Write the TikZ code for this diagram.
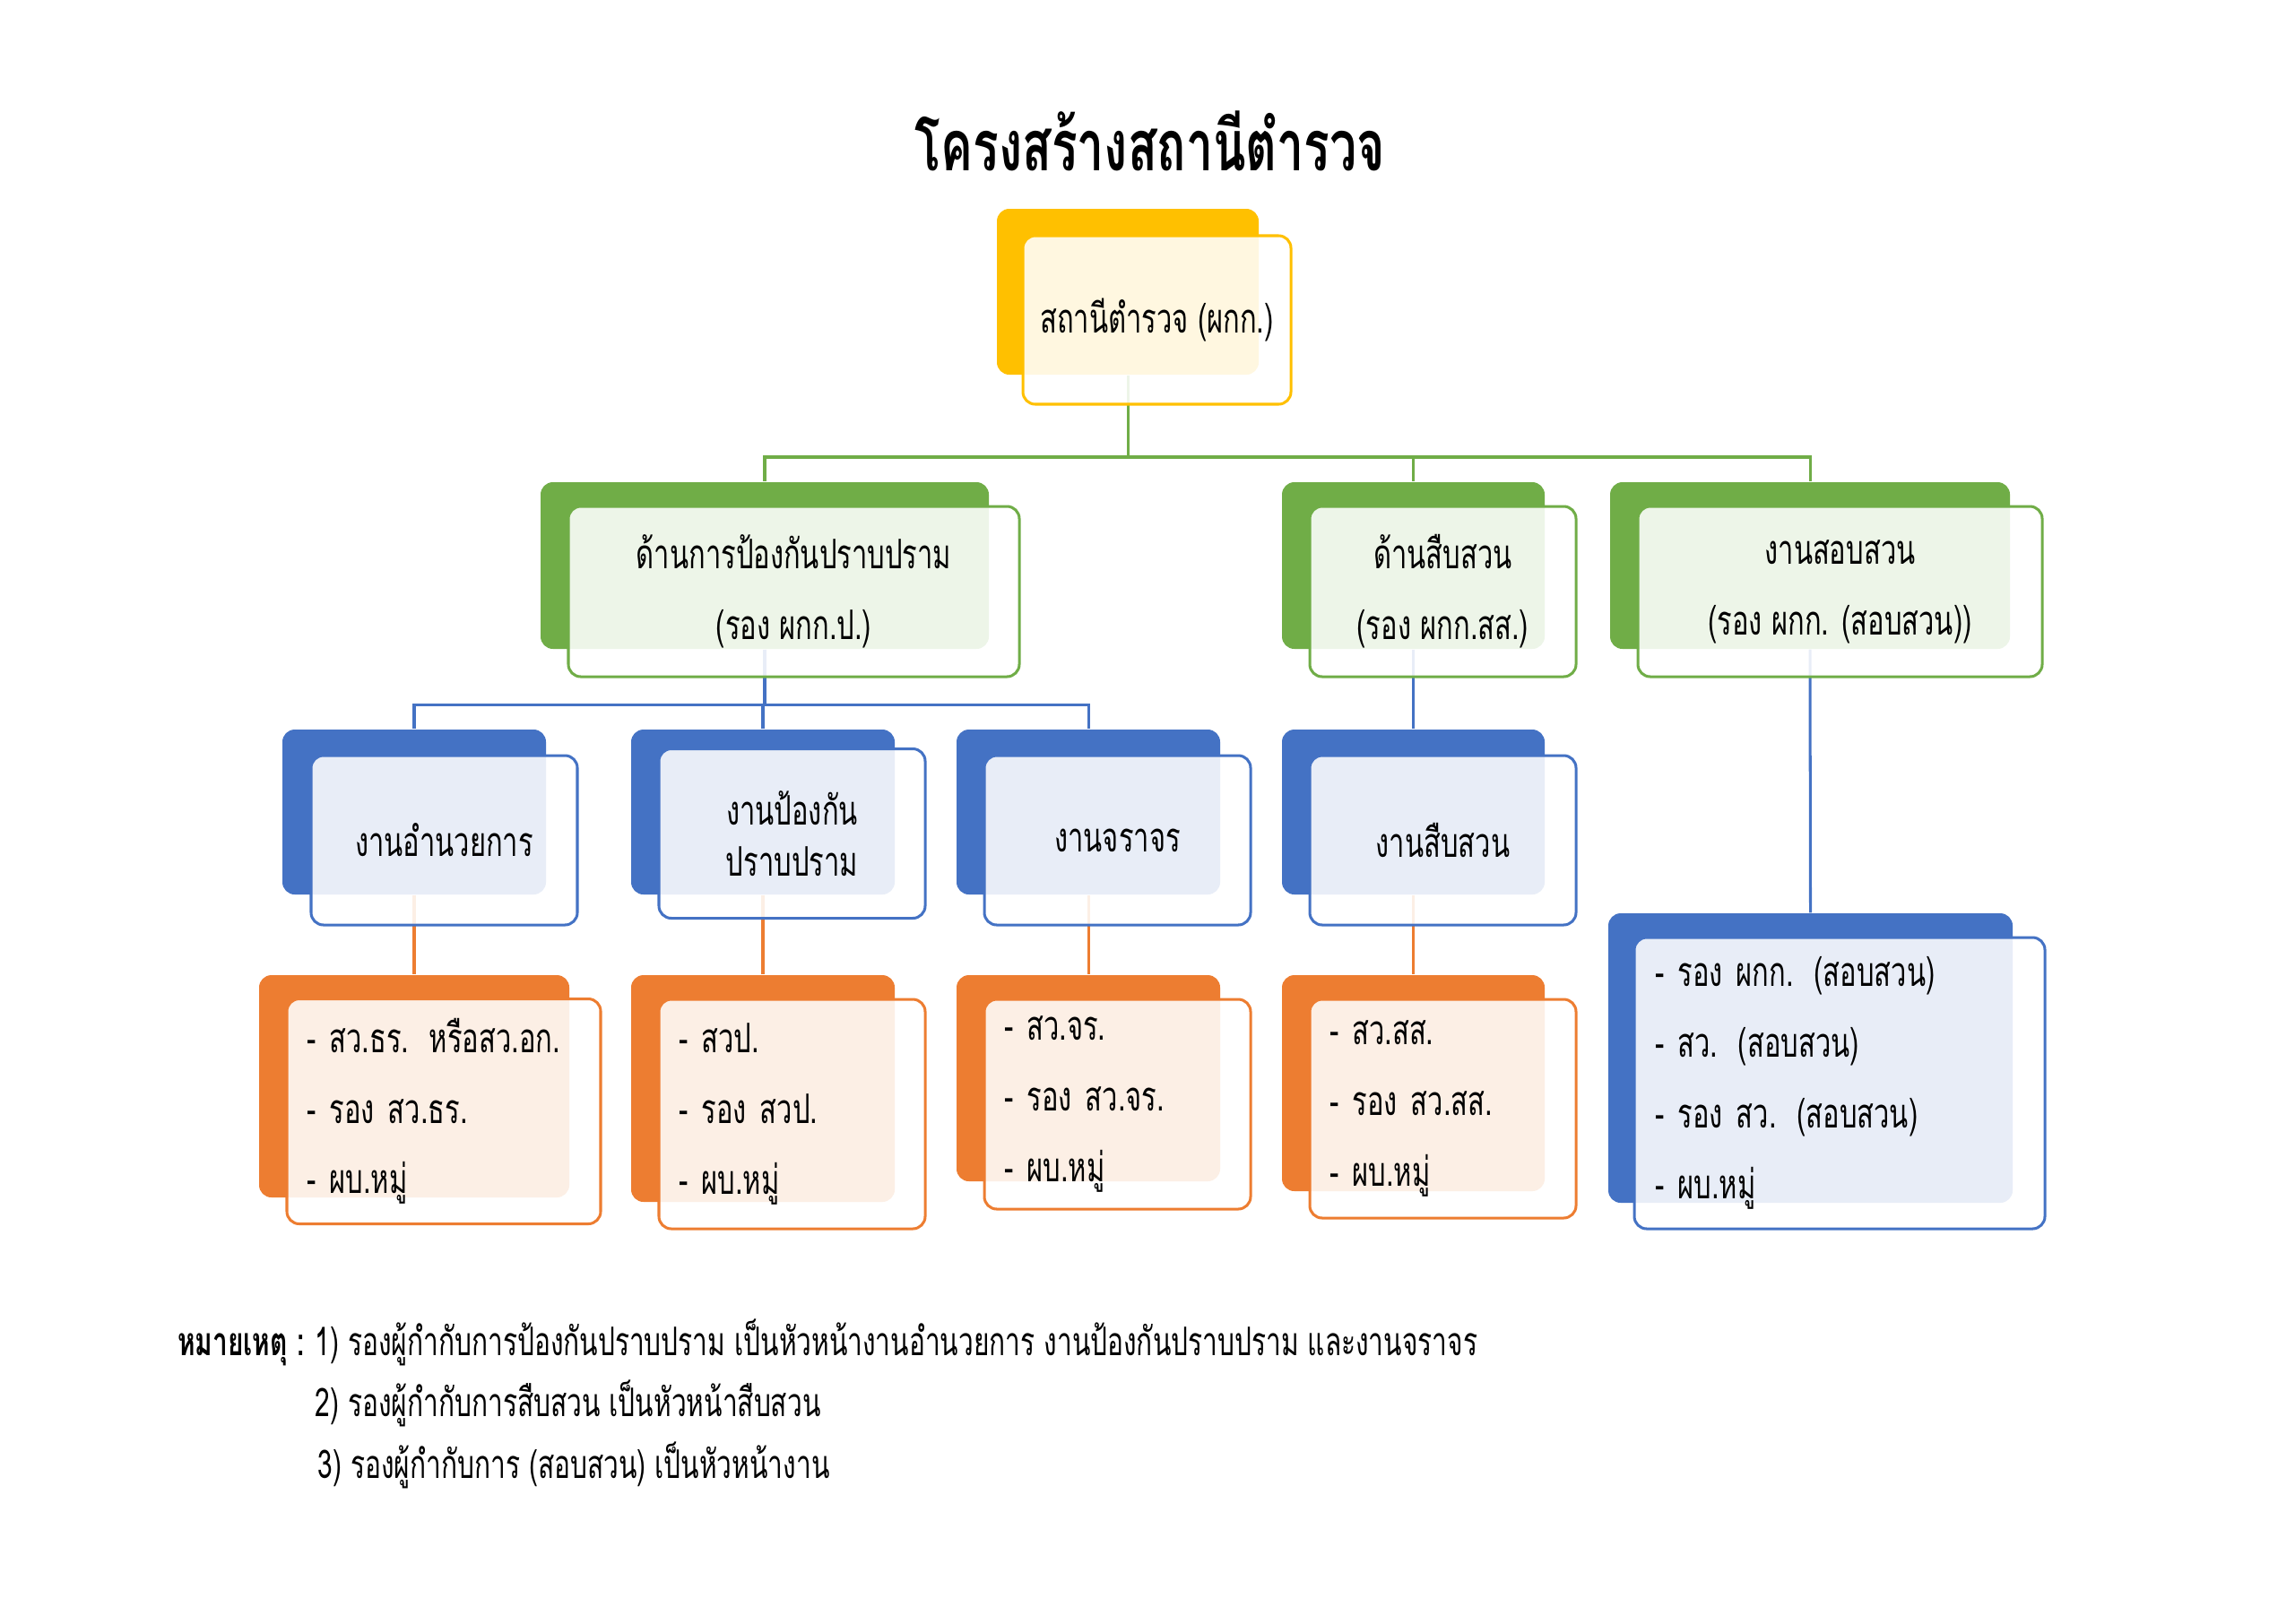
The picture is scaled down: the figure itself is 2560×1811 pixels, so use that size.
\documentclass[tikz,border=0pt]{standalone}
\usepackage{fontspec}
\newfontfamily\thaifont[Script=Thai,FakeStretch=0.68]{Loma}
\pgfdeclarelayer{background}
\pgfsetlayers{background,main}
\definecolor{accY}{HTML}{FFC000}
\definecolor{accG}{HTML}{70AD47}
\definecolor{accB}{HTML}{4472C4}
\definecolor{accO}{HTML}{ED7D31}
\newlength\pxu
\setlength\pxu{0.11602mm}
\newcommand\boxfont{\thaifont\fontsize{15}{26}\selectfont}
\newcommand\notefont{\thaifont\fontsize{14.5}{20}\selectfont}
\tikzset{
  back/.style={rectangle, rounded corners=1.6mm, fill=#1, draw=none, inner sep=0pt},
  front/.style={rectangle, rounded corners=1.6mm, draw=#1, line width=1pt,
    fill=white, fill opacity=0.88, text opacity=1, inner sep=0pt,
    align=center, font=\boxfont},
  list/.style={align=left, inner xsep=22*\pxu, text width=#1*\pxu},
  link/.style={draw=#1, line width=1pt},
}
\begin{document}
\begin{tikzpicture}[x=0.11602mm, y=-0.11602mm]
  \useasboundingbox (0,0) rectangle (2560,1811);

  \node[font=\thaifont\bfseries\fontsize{26}{32}\selectfont] (title) at (1283,157) {โครงสร้างสถานีตำรวจ};

  % top
  \node[back=accY, minimum width=292*\pxu, minimum height=185*\pxu] (stnB) at (1258,325.5) {};
  \node[front=accY, minimum width=299*\pxu, minimum height=188*\pxu] (stn) at (1290.5,357) {สถานีตำรวจ (ผกก.)};

  % second row
  \node[back=accG, minimum width=500*\pxu, minimum height=186*\pxu] (prevB) at (853,631) {};
  \node[front=accG, minimum width=503*\pxu, minimum height=190*\pxu] (prev) at (885.5,660) {ด้านการป้องกันปราบปราม\\(รอง ผกก.ป.)};
  \node[back=accG, minimum width=293*\pxu, minimum height=186*\pxu] (invB) at (1576.5,631) {};
  \node[front=accG, minimum width=297*\pxu, minimum height=190*\pxu] (inv) at (1609.5,660) {ด้านสืบสวน\\(รอง ผกก.สส.)};
  \node[back=accG, minimum width=446*\pxu, minimum height=186*\pxu] (qstB) at (2019,631) {};
  \node[front=accG, minimum width=451*\pxu, minimum height=190*\pxu] (qst) at (2052.5,660) {งานสอบสวน\\(รอง ผกก. (สอบสวน))};

  % third row
  \node[back=accB, minimum width=294*\pxu, minimum height=184*\pxu] (admB) at (462,906) {};
  \node[front=accB, minimum width=297*\pxu, minimum height=189*\pxu] (adm) at (495.5,937.5) {งานอำนวยการ};
  \node[back=accB, minimum width=294*\pxu, minimum height=184*\pxu] (patB) at (851,906) {};
  \node[front=accB, minimum width=297*\pxu, minimum height=189*\pxu,
    font=\thaifont\fontsize{15}{19}\selectfont] (pat) at (883.5,930) {งานป้องกัน\\ปราบปราม};
  \node[back=accB, minimum width=294*\pxu, minimum height=184*\pxu] (trfB) at (1214,906) {};
  \node[front=accB, minimum width=297*\pxu, minimum height=189*\pxu] (trf) at (1246.5,937.5) {งานจราจร};
  \node[back=accB, minimum width=293*\pxu, minimum height=184*\pxu] (detB) at (1576.5,906) {};
  \node[front=accB, minimum width=297*\pxu, minimum height=189*\pxu] (det) at (1609.5,937.5) {งานสืบสวน};

  % staff boxes
  \node[back=accO, minimum width=346*\pxu, minimum height=248*\pxu] (admsB) at (462,1212) {};
  \node[front=accO, list=306, minimum width=350*\pxu, minimum height=251*\pxu] (adms) at (495,1240) {- สว.ธร. หรือสว.อก.\\- รอง สว.ธร.\\- ผบ.หมู่};
  \node[back=accO, minimum width=294*\pxu, minimum height=253*\pxu] (patsB) at (851,1214.5) {};
  \node[front=accO, list=253, minimum width=297*\pxu, minimum height=256*\pxu] (pats) at (883.5,1243) {- สวป.\\- รอง สวป.\\- ผบ.หมู่};
  \node[back=accO, minimum width=294*\pxu, minimum height=230*\pxu] (trfsB) at (1214,1203) {};
  \node[front=accO, list=253, minimum width=297*\pxu, minimum height=234*\pxu] (trfs) at (1246.5,1232) {- สว.จร.\\- รอง สว.จร.\\- ผบ.หมู่};
  \node[back=accO, minimum width=293*\pxu, minimum height=241*\pxu] (detsB) at (1576.5,1208.5) {};
  \node[front=accO, list=253, minimum width=297*\pxu, minimum height=244*\pxu] (dets) at (1609.5,1237) {- สว.สส.\\- รอง สว.สส.\\- ผบ.หมู่};
  \node[back=accB, minimum width=451*\pxu, minimum height=323*\pxu] (qstsB) at (2019.5,1180.5) {};
  \node[front=accB, list=412, minimum width=458*\pxu, minimum height=325*\pxu] (qsts) at (2052,1208.5) {- รอง ผกก. (สอบสวน)\\- สว. (สอบสวน)\\- รอง สว. (สอบสวน)\\- ผบ.หมู่};

  % notes
  \node[anchor=base east, inner sep=0pt, font=\notefont\bfseries] (notehead) at (340,1512) {หมายเหตุ :};
  \node[anchor=base west, inner sep=0pt, font=\notefont] (note1) at (351,1512) {1) รองผู้กำกับการป้องกันปราบปราม เป็นหัวหน้างานอำนวยการ งานป้องกันปราบปราม และงานจราจร};
  \node[anchor=base west, inner sep=0pt, font=\notefont] (note2) at (351,1580) {2) รองผู้กำกับการสืบสวน เป็นหัวหน้าสืบสวน};
  \node[anchor=base west, inner sep=0pt, font=\notefont] (note3) at (354,1649) {3) รองผู้กำกับการ (สอบสวน) เป็นหัวหน้างาน};

  \begin{pgfonlayer}{background}
    \fill[white] (0,0) rectangle (2560,1811);
    \coordinate (gbus) at (1258,510);
    \coordinate (bbus) at (853,786);
    \draw[link=accG] (stnB.south) -- (gbus) -| (prevB.north);
    \draw[link=accG] (gbus) -| (invB.north);
    \draw[link=accG] (gbus) -| (qstB.north);
    \draw[link=accB] (prevB.south) -- (bbus) -| (admB.north);
    \draw[link=accB] (bbus) -| (patB.north);
    \draw[link=accB] (bbus) -| (trfB.north);
    \draw[link=accB] (invB.south) -- (detB.north);
    \draw[link=accB] (qstB.south) -- (qstsB.north);
    \draw[link=accO] (admB.south) -- (admsB.north);
    \draw[link=accO] (patB.south) -- (patsB.north);
    \draw[link=accO] (trfB.south) -- (trfsB.north);
    \draw[link=accO] (detB.south) -- (detsB.north);
  \end{pgfonlayer}
\end{tikzpicture}
\end{document}
